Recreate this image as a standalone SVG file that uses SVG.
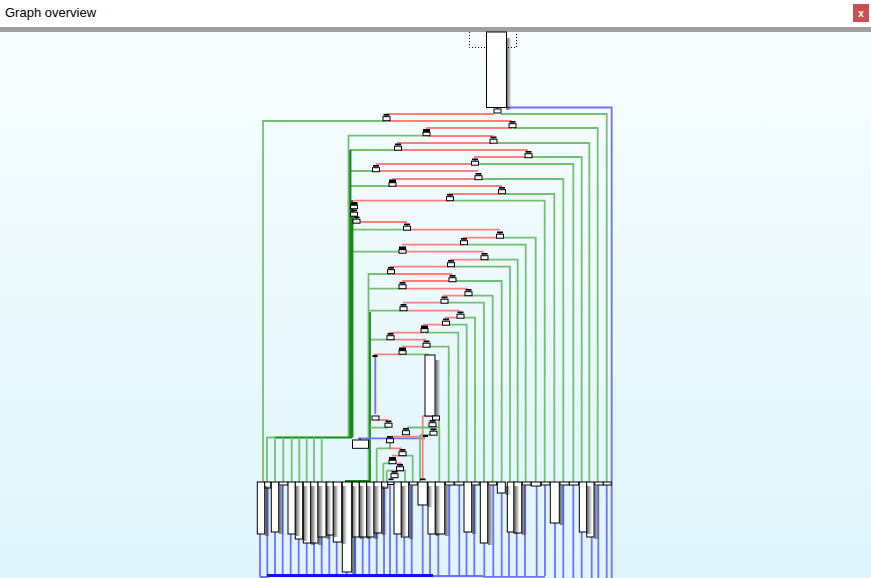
<svg xmlns="http://www.w3.org/2000/svg" width="871" height="578" viewBox="0 0 871 578">
<defs>
<linearGradient id="bg" x1="0" y1="0" x2="0" y2="1"><stop offset="0" stop-color="#f9feff"/><stop offset="1" stop-color="#dff5fb"/></linearGradient>
<linearGradient id="sh" x1="0" y1="0" x2="1" y2="0"><stop offset="0" stop-color="#000" stop-opacity="0.6"/><stop offset="1" stop-color="#000" stop-opacity="0"/></linearGradient>
<g id="ib"><rect x="-3" y="0" width="6" height="1.7" fill="#000"/><rect x="-0.7" y="1.7" width="1.4" height="1" fill="#00f"/><rect x="-3.5" y="2.7" width="7" height="4" fill="#fff" stroke="#000" stroke-width="1"/></g>
<g id="ir"><rect x="-3" y="0" width="6" height="1.7" fill="#000"/><rect x="-0.7" y="1.7" width="1.4" height="1" fill="#f00"/><rect x="-3.5" y="2.7" width="7" height="4" fill="#fff" stroke="#000" stroke-width="1"/></g>
<g id="ik"><rect x="-3.5" y="0" width="7" height="3.5" fill="#000"/><rect x="-3.5" y="3.2" width="7" height="3.5" fill="#fff" stroke="#000" stroke-width="1"/></g>
<g id="io"><rect x="-3.5" y="0" width="7" height="4" fill="#fff" stroke="#000" stroke-width="1"/></g>
</defs>
<style>
.g{fill:none;stroke:#74bf74;stroke-width:1.8}
.dg{fill:none;stroke:#138a13;stroke-width:2.2}
.r{fill:none;stroke:#ff7f7f;stroke-width:1.8}
.b{fill:none;stroke:#7070ff;stroke-width:1.8}
.bb{fill:none;stroke:#1010f0;stroke-width:2.8}
.bx{fill:#fff;stroke:#000;stroke-width:1}
.sd{fill:url(#sh)}
</style>
<rect x="0" y="0" width="871" height="578" fill="url(#bg)"/>
<rect x="0" y="0" width="871" height="27" fill="#fff"/>
<text x="5" y="16.5" font-family="Liberation Sans, Arial, sans-serif" font-size="13" fill="#000">Graph overview</text>
<rect x="853" y="4" width="16" height="18" fill="#c75050"/>
<text x="861" y="17" font-family="Liberation Sans, Arial, sans-serif" font-size="10" font-weight="bold" fill="#fff" text-anchor="middle">x</text>
<rect x="0" y="27" width="871" height="5" fill="#a0a0a0"/>
<path d="M469.5 32 V47.5 H516.5 V32" fill="none" stroke="#000" stroke-width="1" stroke-dasharray="1,2"/>

<g id="connectors">
<path class="b" d="M506 107.5 H611.7 V578"/>
<path class="g" d="M501 114 H606.7 V482 M513 128 H597.7 V482 M497 143 H589.3 V482 M530 157 H581.7 V482 M477 164 H573.3 V482 M480 179 H563.3 V482 M503 194 H554.3 V482 M452 200.7 H544.7 V482 M502 237.7 H535.7 V482 M467 244.7 H525.7 V482 M485 259.7 H517.7 V482 M452 266.7 H510 V482 M453 281 H501.7 V482 M469 295.7 H492.7 V482 M445 302.7 H484 V482 M462 317.7 H475 V482 M447 324.7 H466.7 V482 M425 332.7 H458.3 V482 M427 346.7 H448.7 V482 M403 354.3 H428 V356"/>
<path class="g" d="M386 121 H263 V482 M426 135.7 H348.5 V437.5 M398 150 H350 M376 171 H350 M392 186 H350 M407 229.7 H353 M402 251.7 H353 M391 274 H368.5 V481 M402 288.7 H368.5 M403 310.7 H368.5 M390 339.7 H369"/>
<path class="dg" d="M350.3 150 V437.5 M352.3 200 V437.5"/>
<path class="dg" d="M352 437.5 H275"/>
<path class="g" d="M275 437.5 H267 V482 M275 437.5 V482 M283.3 437.5 V482 M291.7 437.5 V482 M299.3 437.5 V482 M306.7 437.5 V482 M314 437.5 V482 M321.7 437.5 V482"/>
<path class="dg" d="M370 312 V481 H345" style="stroke-width:1.8"/>
<path class="g" d="M328 481 V482"/>
<path class="r" d="M386 114 H494 M387 121 H512 M426 128 H512 M427 136 H493 M397 143 H493 M400 150 H528 M474 157 H528 M376 164 H475 M377 171 H478 M392 179 H478 M393 186 H502 M449 194 H502 M354 200.7 H450 M357 222 H407 M408 229.7 H500 M463 237.7 H500 M402 244.7 H464 M403 251.7 H484 M450 259.7 H484 M390 266.7 H450 M392 274 H452 M402 281 H452 M403 288.7 H468 M443 295.7 H468 M403 302.7 H443 M404 310.7 H460 M445 317.7 H460 M423 324.7 H446 M389 332.7 H424 M391 339.7 H426 M402 346.7 H426 M374 354.3 H402"/>
<path class="b" d="M375.3 357 V414 M358 438.3 H425"/>
<path class="r" d="M377 420 H388 M422.7 416 H433 M422.7 416 V479 M393 436.7 H425 M390 448.3 H402 M392 455.7 H403 M395 463.3 H402 M392 470.7 H398"/>
<path class="g" d="M370 427.7 H388 M407 427.5 H439.3 V482 M420 435 H430 M420 435 V482 M377 448.3 H390 M376.7 448.3 V482 M403 455.7 H412.7 V482 M383.3 463.3 H392 M383.3 463.3 V482 M386.7 470.7 H392 M386.7 470.7 V482 M397 470.7 H405 V482 M439 420 V427"/>
<path d="M390 443 V449" fill="none" stroke="#8a8a30" stroke-width="1.4"/>
<path class="b" d="M260 484 V577 M267.3 484 V576 M275 484 V576 M282.7 484 V576 M290.7 484 V576 M298.7 484 V576 M306.7 484 V576 M314 484 V576 M321.7 484 V576 M329.3 484 V576 M336.7 484 V576 M346.7 484 V576 M355 484 V576 M362.7 484 V576 M369.3 484 V576 M376.7 484 V576 M384 484 V576 M390 484 V576 M396.7 484 V576 M404.3 484 V576 M411.7 484 V576 M422.7 484 V576 M430 484 V576 M438.3 484 V576 M449.3 484 V576 M459.3 484 V576 M466.5 484 V576 M474.3 484 V576 M484.3 484 V576 M493.3 484 V576 M501.7 484 V576 M509 484 V576 M516.7 484 V576 M525 484 V576 M536.7 484 V576 M545 484 V576 M555 484 V578 M563.3 484 V578 M573.3 484 V578 M581.7 484 V578 M591.7 484 V578 M598.3 484 V578 M606.7 484 V578"/>
<path class="b" d="M260 577 H268 M433 576 H483 M483 576.8 H545"/>
<path class="bb" d="M267 575.5 H433"/>
</g>

<g id="n0"><rect class="sd" x="506.5" y="38" width="5" height="72"/><rect class="bx" x="486.5" y="32" width="20" height="75.5"/></g>
<g id="n0a"><rect x="496.8" y="107.5" width="1.4" height="1.5" fill="#00f"/><use href="#io" x="497.5" y="109"/></g>
<g id="n1"><use href="#ib" x="386.5" y="114"/></g>
<g id="n2"><use href="#ir" x="512.5" y="121"/></g>
<g id="n3"><use href="#ik" x="426.5" y="129"/></g>
<g id="n4"><use href="#ib" x="493.5" y="136.5"/></g>
<g id="n5"><use href="#ib" x="398" y="143.5"/></g>
<g id="n6"><use href="#ir" x="528.5" y="151"/></g>
<g id="n7"><use href="#ib" x="475" y="158.5"/></g>
<g id="n8"><use href="#ib" x="376" y="165"/></g>
<g id="n9"><use href="#ir" x="478.5" y="173"/></g>
<g id="n10"><use href="#ik" x="392.5" y="179.5"/></g>
<g id="n11"><use href="#ir" x="502" y="187"/></g>
<g id="n12"><use href="#ib" x="450" y="194"/></g>
<g id="n13"><use href="#ik" x="354" y="202"/></g>
<g id="n14"><use href="#ib" x="354" y="209.5"/></g>
<g id="n15"><use href="#ib" x="356.5" y="216.5"/></g>
<g id="n16"><use href="#ir" x="407" y="223.5"/></g>
<g id="n17"><use href="#ib" x="500" y="231.5"/></g>
<g id="n18"><use href="#ib" x="464" y="238"/></g>
<g id="n19"><use href="#ik" x="402.5" y="246.5"/></g>
<g id="n20"><use href="#ir" x="484.5" y="253"/></g>
<g id="n21"><use href="#ib" x="451" y="260"/></g>
<g id="n22"><use href="#ib" x="391" y="267"/></g>
<g id="n23"><use href="#ir" x="452.5" y="275"/></g>
<g id="n24"><use href="#ib" x="402.5" y="282"/></g>
<g id="n25"><use href="#ib" x="468.5" y="289"/></g>
<g id="n26"><use href="#ir" x="444.5" y="296.5"/></g>
<g id="n27"><use href="#ib" x="403.5" y="304"/></g>
<g id="n28"><use href="#ib" x="460.5" y="311.5"/></g>
<g id="n29"><use href="#ir" x="446" y="318.5"/></g>
<g id="n30"><use href="#ik" x="424.5" y="325.5"/></g>
<g id="n31"><use href="#ib" x="390.5" y="333"/></g>
<g id="n32"><use href="#ir" x="426.5" y="340.5"/></g>
<g id="n33"><use href="#ik" x="402.5" y="347.5"/></g>
<g id="n34"><rect x="372.5" y="355" width="5" height="2" fill="#000"/></g>
<g id="nB"><rect class="sd" x="435.5" y="360" width="5" height="58"/><rect class="bx" x="425" y="355" width="10" height="61"/></g>
<g id="n35"><use href="#io" x="375.5" y="416"/></g>
<g id="n36"><use href="#ib" x="388.5" y="420.5"/></g>
<g id="n37"><use href="#io" x="436" y="416"/></g>
<g id="n38"><use href="#ib" x="432.5" y="420"/></g>
<g id="n39"><use href="#ib" x="433.5" y="428.5"/></g>
<g id="n40"><use href="#ib" x="406" y="428"/></g>
<g id="n41"><use href="#ib" x="390" y="436"/></g>
<g id="n42"><use href="#ib" x="402.5" y="449"/></g>
<g id="n43"><use href="#ik" x="392.5" y="457"/></g>
<g id="n44"><use href="#ib" x="400" y="464"/></g>
<g id="n45"><use href="#ir" x="394.5" y="471"/></g>
<g id="n46"><rect x="423" y="435" width="5" height="2" fill="#000"/></g>
<g id="nW"><rect x="359.3" y="438.5" width="1.4" height="1.5" fill="#00f"/><rect class="bx" x="352.5" y="440" width="16" height="8.3"/></g>

<g id="row">
<g id="r1"><rect class="bx" x="257.3" y="482" width="7.4" height="52"/></g>
<g id="r2"><rect class="bx" x="264.7" y="482" width="6" height="6"/></g>
<g id="r3"><rect class="bx" x="271.3" y="482" width="7.4" height="50"/></g>
<g id="r4"><rect class="bx" x="279" y="482" width="9" height="3"/></g>
<g id="r5"><rect class="bx" x="288" y="482" width="7.3" height="52"/></g>
<g id="r6"><rect class="bx" x="295.3" y="482" width="7.4" height="57"/></g>
<g id="r7"><rect class="bx" x="303.3" y="482" width="7.4" height="61"/></g>
<g id="r8"><rect class="bx" x="310.7" y="482" width="7.3" height="61"/></g>
<g id="r9"><rect class="bx" x="318" y="482" width="8" height="55"/></g>
<g id="r10"><rect class="bx" x="326.7" y="482" width="6.6" height="53"/></g>
<g id="r11"><rect class="bx" x="333.3" y="482" width="8.4" height="60"/></g>
<g id="r12"><rect class="bx" x="342.3" y="482" width="9.4" height="90"/></g>
<g id="r13"><rect class="bx" x="352.3" y="482" width="7" height="55"/></g>
<g id="r14"><rect class="bx" x="359.3" y="482" width="7.4" height="55"/></g>
<g id="r15"><rect class="bx" x="366.7" y="482" width="7.3" height="55"/></g>
<g id="r16"><rect class="bx" x="374" y="482" width="7.7" height="51"/></g>
<g id="r17"><rect class="bx" x="381.7" y="482" width="6" height="6"/></g>
<g id="r18"><rect x="388.5" y="478.5" width="5" height="1.7" fill="#000"/><rect class="bx" x="387.7" y="482" width="6.3" height="2.5"/></g>
<g id="r19"><rect class="bx" x="394" y="482" width="7.3" height="52"/></g>
<g id="r20"><rect class="bx" x="401.3" y="482" width="7.4" height="55"/></g>
<g id="r21"><rect class="bx" x="409.3" y="482" width="8" height="3"/></g>
<g id="r22"><rect x="420" y="478.5" width="5.5" height="1.7" fill="#000"/><rect class="bx" x="418" y="482" width="9.3" height="23"/></g>
<g id="r23"><rect class="bx" x="428" y="482" width="7.3" height="52"/></g>
<g id="r24"><rect class="bx" x="435.3" y="482" width="9.4" height="52"/></g>
<g id="r25"><rect class="bx" x="445.3" y="482" width="8.7" height="3"/></g>
<g id="r26"><rect class="bx" x="454.7" y="482" width="9.3" height="3"/></g>
<g id="r27"><rect class="bx" x="464" y="482" width="7.7" height="50"/></g>
<g id="r28"><rect class="bx" x="471.7" y="482" width="7.6" height="3"/></g>
<g id="r29"><rect class="bx" x="480.3" y="482" width="7.4" height="61"/></g>
<g id="r30"><rect class="bx" x="488.3" y="482" width="8.4" height="3"/></g>
<g id="r31"><rect class="bx" x="497.3" y="482" width="8" height="11"/></g>
<g id="r32"><rect class="bx" x="507.3" y="482" width="6.7" height="50"/></g>
<g id="r33"><rect class="bx" x="514" y="482" width="7.7" height="51"/></g>
<g id="r34"><rect class="bx" x="522.3" y="482" width="8.7" height="3"/></g>
<g id="r35"><rect class="bx" x="531.3" y="482" width="9.4" height="4"/></g>
<g id="r36"><rect class="bx" x="541.3" y="482" width="8.7" height="3"/></g>
<g id="r37"><rect class="bx" x="550.3" y="482" width="9" height="41"/></g>
<g id="r38"><rect class="bx" x="560" y="482" width="9.3" height="3"/></g>
<g id="r39"><rect class="bx" x="569.3" y="482" width="9.4" height="3"/></g>
<g id="r40"><rect class="bx" x="579.3" y="482" width="7.4" height="50"/></g>
<g id="r41"><rect class="bx" x="586.7" y="482" width="7.3" height="55"/></g>
<g id="r42"><rect class="bx" x="594.7" y="482" width="8.6" height="3"/></g>
<g id="r43"><rect class="bx" x="603.3" y="482" width="8" height="3"/></g>
</g>
<g id="shadows">
<rect class="sd" x="265.2" y="486" width="5" height="50"/>
<rect class="sd" x="279.2" y="486" width="5" height="48"/>
<rect class="sd" x="295.8" y="486" width="5" height="50"/>
<rect class="sd" x="303.2" y="486" width="5" height="55"/>
<rect class="sd" x="311.2" y="486" width="5" height="59"/>
<rect class="sd" x="318.5" y="486" width="5" height="59"/>
<rect class="sd" x="326.5" y="486" width="5" height="53"/>
<rect class="sd" x="333.8" y="486" width="5" height="51"/>
<rect class="sd" x="342.2" y="486" width="5" height="58"/>
<rect class="sd" x="352.2" y="486" width="5" height="88"/>
<rect class="sd" x="359.8" y="486" width="5" height="53"/>
<rect class="sd" x="367.2" y="486" width="5" height="53"/>
<rect class="sd" x="374.5" y="486" width="5" height="53"/>
<rect class="sd" x="382.2" y="486" width="5" height="49"/>
<rect class="sd" x="401.8" y="486" width="5" height="50"/>
<rect class="sd" x="409.2" y="486" width="5" height="53"/>
<rect class="sd" x="427.8" y="486" width="5" height="21"/>
<rect class="sd" x="435.8" y="486" width="5" height="50"/>
<rect class="sd" x="445.2" y="486" width="5" height="50"/>
<rect class="sd" x="472.2" y="486" width="5" height="48"/>
<rect class="sd" x="488.2" y="486" width="5" height="59"/>
<rect class="sd" x="505.8" y="486" width="5" height="9"/>
<rect class="sd" x="514.5" y="486" width="5" height="48"/>
<rect class="sd" x="522.2" y="486" width="5" height="49"/>
<rect class="sd" x="559.8" y="486" width="5" height="39"/>
<rect class="sd" x="587.2" y="486" width="5" height="48"/>
<rect class="sd" x="594.5" y="486" width="5" height="53"/>
</g>
</svg>
